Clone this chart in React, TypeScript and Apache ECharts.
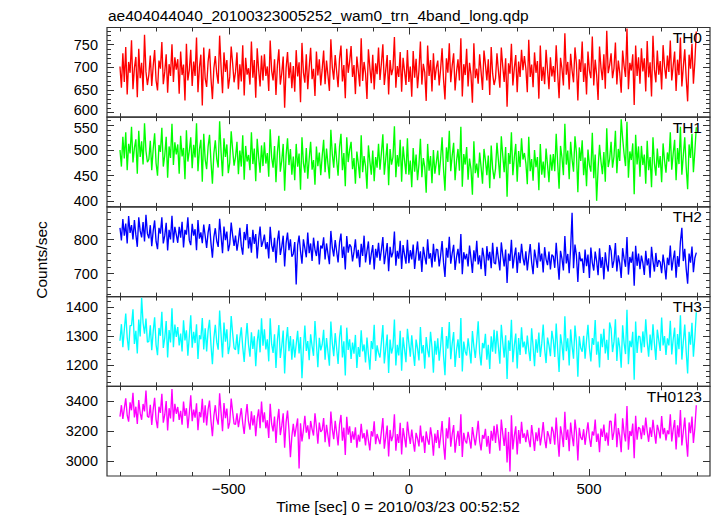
import React, { useEffect, useRef } from 'react';
import * as echarts from 'echarts';

const TITLE = 'ae404044040_20100323005252_wam0_trn_4band_long.qdp';
const X_TITLE = 'Time [sec] 0 = 2010/03/23 00:52:52';
const Y_TITLE = 'Counts/sec';
const BANDS = ['TH0', 'TH1', 'TH2', 'TH3', 'TH0123'];
const COLORS = ['#ff0000', '#00ff00', '#0000ff', '#00ffff', '#ff00ff'];

// time bins: first bin start and bin width (sec)
const T_START = -802;
const T_STEP = 4.01;

const X_MIN = -838;
const X_MAX = 836;
const X_MAJOR = [-500, 0, 500];
const X_MINOR = [-800, -700, -600, -400, -300, -200, -100, 100, 200, 300, 400, 600, 700, 800];

const Y_RANGES = [[590, 788], [388, 566], [632, 897], [1127, 1436], [2900, 3498]];
const Y_MAJOR = [[600, 650, 700, 750], [400, 450, 500, 550], [700, 800], [1200, 1300, 1400], [3000, 3200, 3400]];
const Y_MINOR = [
  [610, 620, 630, 640, 660, 670, 680, 690, 710, 720, 730, 740, 760, 770, 780],
  [390, 410, 420, 430, 440, 460, 470, 480, 490, 510, 520, 530, 540, 560],
  [640, 660, 680, 720, 740, 760, 780, 820, 840, 860, 880],
  [1140, 1160, 1180, 1220, 1240, 1260, 1280, 1320, 1340, 1360, 1380, 1420],
  [3100, 3300],
];
// tick labels that sit at a panel seam, nudged apart so they do not collide
const LABEL_UP = [[600], [], [], [], []];
const LABEL_DOWN = [[], [550], [], [], []];

const TH0 = [
  702, 655, 731, 668, 745, 640, 712, 688, 760, 652, 699, 723, 634, 741, 676, 710, 648, 772, 690, 661,
  684, 726, 659, 703, 738, 671, 649, 715, 697, 756, 663, 690, 729, 644, 707, 681, 751, 668, 722, 695,
  718, 642, 735, 683, 706, 627, 752, 671, 694, 739, 659, 713, 681, 766, 645, 700, 728, 616, 744, 675,
  657, 712, 741, 676, 630, 698, 725, 686, 664, 770, 701, 643, 733, 690, 716, 653, 679, 746, 709, 667,
  690, 733, 651, 707, 669, 749, 638, 721, 684, 698, 662, 757, 677, 716, 633, 742, 695, 658, 726, 671,
  729, 681, 702, 648, 759, 693, 671, 718, 639, 705, 740, 662, 687, 724, 611, 698, 734, 676, 711, 654,
  703, 646, 738, 680, 711, 623, 754, 689, 666, 729, 652, 700, 743, 674, 697, 637, 735, 682, 718, 660,
  696, 737, 663, 715, 682, 648, 762, 700, 673, 727, 691, 656, 719, 748, 669, 705, 632, 741, 688, 713,
  747, 679, 705, 641, 724, 692, 658, 764, 670, 712, 687, 630, 740, 699, 665, 728, 651, 709, 685, 744,
  672, 709, 751, 661, 694, 727, 640, 716, 683, 698, 767, 655, 703, 679, 734, 646, 721, 692, 661, 738,
  668, 702, 635, 736, 677, 719, 654, 694, 757, 662, 708, 689, 626, 748, 681, 716, 647, 731, 672, 699,
  715, 660, 697, 742, 674, 629, 720, 688, 753, 667, 704, 731, 649, 690, 718, 671, 764, 636, 707, 683,
  741, 658, 710, 684, 622, 753, 676, 697, 664, 729, 690, 650, 737, 707, 671, 718, 639, 745, 686, 661,
  676, 731, 692, 655, 744, 702, 668, 720, 613, 709, 686, 752, 660, 698, 727, 645, 713, 679, 739, 694,
  725, 697, 645, 761, 679, 706, 656, 733, 688, 714, 631, 748, 670, 701, 663, 739, 694, 652, 722, 680,
  703, 668, 749, 687, 632, 721, 697, 660, 775, 684, 712, 651, 730, 693, 667, 744, 708, 627, 718, 690,
  757, 668, 709, 640, 735, 692, 676, 768, 660, 717, 683, 628, 746, 699, 672, 729, 653, 781, 687, 705,
  731, 676, 698, 755, 662, 715, 688, 644, 737, 703, 679, 786, 652, 710, 693, 729, 617, 748, 681, 722,
  664, 742, 691, 720, 647, 758, 678, 711, 636, 770, 695, 667, 737, 684, 714, 651, 749, 702, 675, 726,
  690, 759, 671, 704, 735, 648, 717, 683, 766, 658, 701, 740, 676, 625, 728, 697, 752, 664, 713, 779,
];

const TH1 = [
  501, 468, 527, 484, 536, 461, 513, 494, 547, 476, 505, 522, 454, 539, 487, 518, 472, 554, 499, 477,
  482, 519, 461, 503, 534, 475, 450, 511, 497, 545, 468, 490, 527, 446, 508, 485, 553, 471, 516, 492,
  512, 454, 529, 488, 505, 443, 540, 478, 499, 526, 465, 511, 486, 554, 459, 502, 521, 438, 533, 482,
  463, 507, 531, 478, 434, 494, 520, 483, 466, 558, 497, 449, 524, 487, 512, 455, 476, 538, 502, 470,
  487, 517, 453, 500, 468, 530, 442, 509, 478, 491, 461, 536, 473, 504, 439, 523, 486, 456, 510, 469,
  516, 474, 495, 448, 542, 486, 466, 509, 437, 497, 529, 458, 480, 513, 420, 490, 524, 471, 503, 452,
  488, 441, 513, 468, 494, 422, 526, 475, 456, 505, 444, 484, 517, 462, 481, 432, 508, 469, 496, 451,
  489, 521, 457, 504, 473, 444, 541, 492, 466, 514, 481, 450, 507, 533, 461, 495, 429, 526, 477, 501,
  517, 463, 485, 434, 498, 474, 445, 530, 457, 489, 469, 424, 510, 478, 452, 500, 439, 487, 466, 513,
  462, 495, 532, 452, 483, 514, 431, 503, 472, 487, 548, 447, 491, 468, 521, 438, 508, 480, 453, 524,
  452, 480, 427, 505, 458, 492, 441, 473, 523, 447, 485, 467, 416, 513, 460, 489, 435, 501, 454, 476,
  500, 451, 484, 526, 463, 420, 506, 477, 539, 459, 490, 515, 441, 479, 503, 460, 547, 428, 493, 472,
  507, 442, 484, 463, 412, 518, 455, 474, 446, 496, 467, 434, 503, 481, 451, 490, 425, 510, 464, 443,
  464, 515, 480, 445, 528, 490, 457, 507, 408, 495, 473, 536, 451, 486, 513, 438, 499, 467, 524, 482,
  495, 475, 433, 527, 459, 483, 440, 501, 467, 487, 421, 513, 452, 478, 446, 504, 471, 437, 492, 460,
  493, 459, 533, 476, 424, 509, 486, 451, 553, 472, 500, 443, 517, 482, 458, 528, 496, 417, 506, 479,
  520, 451, 486, 429, 502, 471, 458, 535, 445, 492, 400, 465, 511, 478, 453, 497, 438, 544, 467, 483,
  517, 466, 488, 539, 455, 503, 479, 562, 524, 493, 469, 557, 446, 498, 481, 514, 413, 531, 472, 508,
  448, 509, 471, 492, 434, 519, 461, 487, 427, 526, 475, 450, 504, 466, 489, 437, 514, 480, 456, 496,
  478, 536, 462, 494, 521, 441, 505, 473, 547, 452, 490, 526, 467, 423, 512, 485, 533, 457, 499, 546,
];

const TH2 = [
  835, 798, 861, 812, 848, 789, 870, 820, 843, 801, 858, 815, 779, 866, 826, 807, 852, 795, 874, 818,
  804, 843, 781, 826, 857, 795, 772, 835, 818, 866, 789, 812, 850, 768, 829, 801, 871, 791, 838, 815,
  791, 838, 806, 853, 777, 829, 815, 866, 798, 784, 847, 812, 831, 769, 858, 803, 822, 790, 845, 811,
  776, 821, 846, 790, 747, 808, 834, 796, 779, 862, 811, 760, 839, 799, 824, 766, 788, 851, 813, 782,
  812, 768, 797, 835, 781, 756, 823, 799, 846, 774, 808, 762, 829, 788, 817, 745, 801, 839, 779, 794,
  815, 772, 793, 745, 838, 784, 764, 806, 732, 796, 827, 755, 779, 812, 721, 789, 821, 769, 801, 750,
  758, 793, 668, 784, 812, 766, 729, 801, 775, 748, 821, 760, 789, 737, 806, 771, 752, 797, 727, 783,
  774, 807, 742, 789, 758, 728, 826, 777, 751, 799, 766, 733, 792, 818, 746, 780, 712, 811, 762, 786,
  779, 736, 764, 801, 745, 770, 719, 788, 752, 812, 733, 767, 795, 726, 758, 784, 712, 773, 747, 791,
  738, 771, 808, 728, 759, 790, 707, 779, 748, 763, 824, 723, 767, 744, 797, 714, 784, 756, 729, 800,
  731, 769, 742, 786, 714, 757, 795, 738, 766, 705, 779, 751, 727, 801, 744, 760, 718, 788, 735, 772,
  770, 721, 754, 796, 733, 690, 776, 747, 809, 729, 760, 785, 711, 749, 773, 730, 817, 698, 763, 742,
  758, 721, 783, 745, 702, 769, 736, 797, 727, 754, 713, 776, 748, 693, 781, 739, 764, 716, 791, 732,
  728, 779, 744, 709, 792, 754, 721, 771, 672, 759, 737, 800, 715, 750, 777, 702, 763, 731, 788, 746,
  724, 766, 709, 751, 787, 733, 698, 771, 744, 717, 792, 736, 759, 703, 778, 742, 725, 765, 712, 756,
  751, 717, 791, 734, 682, 767, 744, 709, 811, 730, 758, 701, 775, 880, 716, 786, 754, 675, 764, 737,
  744, 702, 771, 722, 756, 687, 777, 732, 709, 765, 737, 695, 775, 717, 749, 683, 763, 726, 706, 784,
  768, 717, 739, 790, 706, 754, 730, 687, 775, 744, 720, 808, 697, 749, 732, 765, 664, 782, 723, 759,
  713, 753, 732, 696, 767, 724, 745, 688, 779, 737, 706, 761, 720, 740, 734, 701, 756, 725, 683, 747,
  725, 783, 709, 741, 768, 688, 752, 720, 794, 835, 737, 773, 714, 670, 759, 732, 780, 704, 746, 762,
];

const TH3 = [
  1284, 1341, 1262, 1322, 1378, 1295, 1251, 1336, 1336, 1392, 1273, 1318, 1240, 1357, 1299, 1432, 1345, 1308, 1360, 1279,
  1282, 1337, 1251, 1316, 1365, 1270, 1234, 1328, 1301, 1384, 1259, 1293, 1352, 1226, 1321, 1278, 1396, 1262, 1340, 1297,
  1331, 1268, 1309, 1247, 1354, 1285, 1320, 1232, 1298, 1372, 1260, 1315, 1276, 1341, 1221, 1303, 1289, 1362, 1254, 1327,
  1247, 1318, 1356, 1270, 1203, 1292, 1339, 1279, 1253, 1388, 1305, 1226, 1347, 1281, 1323, 1238, 1266, 1369, 1310, 1259,
  1253, 1306, 1238, 1292, 1330, 1261, 1211, 1287, 1345, 1270, 1229, 1313, 1256, 1299, 1196, 1280, 1322, 1244, 1361, 1267,
  1323, 1254, 1289, 1213, 1361, 1272, 1242, 1306, 1190, 1287, 1338, 1225, 1265, 1319, 1171, 1280, 1331, 1248, 1300, 1219,
  1289, 1226, 1271, 1318, 1240, 1297, 1155, 1258, 1336, 1249, 1283, 1217, 1306, 1265, 1232, 1352, 1274, 1193, 1294, 1251,
  1271, 1322, 1219, 1293, 1245, 1198, 1350, 1275, 1231, 1310, 1259, 1204, 1296, 1337, 1226, 1282, 1164, 1329, 1252, 1289,
  1221, 1278, 1239, 1304, 1190, 1262, 1228, 1320, 1247, 1271, 1209, 1295, 1236, 1184, 1283, 1255, 1339, 1214, 1268, 1242,
  1226, 1279, 1338, 1206, 1257, 1305, 1173, 1288, 1240, 1263, 1357, 1199, 1270, 1233, 1318, 1181, 1296, 1254, 1210, 1325,
  1276, 1229, 1303, 1245, 1197, 1288, 1258, 1216, 1331, 1240, 1269, 1188, 1297, 1252, 1227, 1315, 1262, 1174, 1284, 1236,
  1292, 1215, 1266, 1331, 1232, 1165, 1300, 1257, 1348, 1220, 1275, 1314, 1194, 1252, 1289, 1225, 1362, 1178, 1281, 1247,
  1233, 1292, 1250, 1206, 1317, 1264, 1225, 1283, 1351, 1242, 1199, 1276, 1258, 1308, 1219, 1270, 1187, 1299, 1246, 1322,
  1239, 1318, 1262, 1205, 1339, 1277, 1226, 1303, 1152, 1285, 1249, 1356, 1210, 1268, 1309, 1188, 1293, 1235, 1330, 1261,
  1281, 1238, 1302, 1251, 1214, 1327, 1265, 1196, 1289, 1243, 1312, 1228, 1274, 1340, 1255, 1207, 1295, 1268, 1231, 1318,
  1285, 1228, 1343, 1256, 1176, 1306, 1270, 1217, 1368, 1248, 1292, 1199, 1323, 1265, 1222, 1336, 1281, 1160, 1299, 1259,
  1246, 1301, 1222, 1285, 1339, 1259, 1213, 1293, 1270, 1355, 1236, 1281, 1192, 1308, 1262, 1325, 1240, 1287, 1218, 1347,
  1326, 1245, 1280, 1358, 1214, 1295, 1260, 1191, 1337, 1276, 1238, 1391, 1203, 1284, 1262, 1315, 1150, 1350, 1242, 1300,
  1297, 1243, 1316, 1262, 1358, 1280, 1229, 1305, 1251, 1341, 1274, 1218, 1322, 1286, 1249, 1364, 1268, 1300, 1235, 1292,
  1268, 1353, 1237, 1289, 1329, 1202, 1307, 1255, 1372, 1219, 1281, 1340, 1246, 1171, 1315, 1270, 1346, 1229, 1296, 1382,
];

const TH0123 = [
  3296, 3372, 3281, 3350, 3418, 3305, 3262, 3391, 3338, 3455, 3290, 3362, 3247, 3407, 3319, 3275, 3380, 3331, 3470, 3298,
  3290, 3375, 3241, 3344, 3421, 3276, 3219, 3362, 3321, 3448, 3256, 3307, 3399, 3203, 3352, 3284, 3480, 3262, 3381, 3315,
  3360, 3274, 3335, 3242, 3396, 3301, 3352, 3219, 3318, 3438, 3266, 3343, 3289, 3384, 3205, 3327, 3292, 3415, 3255, 3371,
  3237, 3345, 3403, 3268, 3165, 3301, 3372, 3281, 3242, 3451, 3324, 3199, 3386, 3286, 3350, 3216, 3259, 3417, 3329, 3247,
  3244, 3318, 3226, 3289, 3352, 3251, 3180, 3297, 3379, 3262, 3209, 3331, 3237, 3304, 3165, 3283, 3345, 3219, 3396, 3258,
  3325, 3218, 3272, 3154, 3381, 3247, 3197, 3296, 3120, 3268, 3347, 3173, 3234, 3318, 3089, 3257, 3336, 3207, 3025, 3165,
  3247, 3162, 3225, 3284, 2950, 3251, 3131, 3206, 3302, 3189, 3238, 3146, 3267, 3213, 3170, 3318, 3228, 3115, 3256, 3194,
  3208, 3286, 3126, 3241, 3167, 3095, 3330, 3213, 3145, 3268, 3189, 3104, 3245, 3307, 3136, 3222, 3041, 3294, 3175, 3231,
  3121, 3197, 3143, 3224, 3089, 3175, 3129, 3248, 3151, 3186, 3104, 3209, 3137, 3071, 3198, 3163, 3265, 3112, 3180, 3146,
  3113, 3196, 3287, 3082, 3161, 3236, 3031, 3207, 3133, 3168, 3312, 3069, 3180, 3121, 3254, 3043, 3219, 3157, 3090, 3262,
  3176, 3114, 3209, 3131, 3062, 3188, 3150, 3097, 3236, 3124, 3168, 3053, 3197, 3140, 3108, 3224, 3157, 3035, 3183, 3121,
  3206, 3086, 3165, 3266, 3112, 3009, 3218, 3150, 3291, 3095, 3179, 3240, 3056, 3143, 3201, 3101, 3312, 3027, 3188, 3135,
  3117, 3195, 3142, 3083, 3226, 3161, 3104, 3182, 3268, 3130, 3071, 3173, 3149, 3215, 3096, 3167, 3048, 3201, 3136, 3234,
  3121, 3245, 3157, 3068, 3277, 3181, 3100, 3220, 2990, 3194, 2930, 3305, 3077, 3168, 3231, 3044, 3207, 3116, 3262, 3154,
  3184, 3125, 3207, 3143, 3092, 3239, 3162, 3067, 3191, 3132, 3221, 3104, 3170, 3259, 3148, 3085, 3199, 3165, 3113, 3228,
  3196, 3108, 3289, 3152, 3028, 3231, 3174, 3093, 3328, 3140, 3209, 3065, 3256, 3167, 3099, 3276, 3190, 3003, 3221, 3158,
  3141, 3212, 3108, 3187, 3258, 3155, 3094, 3196, 3170, 3277, 3127, 3183, 3059, 3216, 3161, 3243, 3133, 3190, 3102, 3265,
  3265, 3140, 3195, 3316, 3092, 3220, 3166, 3059, 3285, 3188, 3130, 3366, 3075, 3200, 3167, 3249, 3018, 3302, 3142, 3226,
  3215, 3146, 3238, 3172, 3290, 3197, 3128, 3225, 3160, 3274, 3189, 3115, 3241, 3203, 3151, 3299, 3178, 3220, 3137, 3204,
  3179, 3311, 3131, 3211, 3273, 3077, 3238, 3158, 3340, 3103, 3197, 3289, 3145, 3029, 3257, 3185, 3296, 3120, 3222, 3372,
];

const SERIES_VALUES = [TH0, TH1, TH2, TH3, TH0123];

const FONT = "'Liberation Sans', Arial, Helvetica, sans-serif";
const AXIS_COLOR = '#333';
const GRID_LEFT = 107;
const GRID_RIGHT = 7;
const GRID_TOP = 27.5;
const PANEL_H = 89.7;
const TICK_FONT = 14.5;
const LABEL_MARGIN = 9;
const NUDGE = 3;

function minus(v: number) {
  return String(v).replace('-', '\u2212');
}

export default function App() {
  const ref = useRef<HTMLDivElement>(null);

  useEffect(() => {
    if (!ref.current) return;
    const chart = echarts.init(ref.current, undefined, { renderer: 'svg' });

    const grids: any[] = [];
    const xAxes: any[] = [];
    const yAxes: any[] = [];
    const series: any[] = [];
    const graphics: any[] = [];
    const yFirstIndex: number[] = [];

    const tickStyle = { color: AXIS_COLOR, width: 1 };

    for (let i = 0; i < 5; i++) {
      const top = GRID_TOP + PANEL_H * i;
      grids.push({
        left: GRID_LEFT,
        right: GRID_RIGHT,
        top,
        height: PANEL_H,
        show: true,
        borderColor: AXIS_COLOR,
        borderWidth: 1.2,
        backgroundColor: 'transparent',
        containLabel: false,
      });

      const xIndex = xAxes.length;
      const baseX = {
        gridIndex: i,
        type: 'value',
        min: X_MIN,
        max: X_MAX,
        axisLine: { show: false, onZero: false },
        splitLine: { show: false },
        minorTick: { show: false },
      };
      ['bottom', 'top'].forEach((pos) => {
        xAxes.push({
          ...baseX,
          position: pos,
          axisTick: { show: true, inside: true, length: 7, lineStyle: tickStyle, customValues: X_MAJOR },
          axisLabel: {
            show: pos === 'bottom' && i === 4,
            customValues: X_MAJOR,
            formatter: (v: number) => minus(v),
            color: '#000',
            fontFamily: FONT,
            fontSize: 15,
            margin: 5,
          },
        });
        xAxes.push({
          ...baseX,
          position: pos,
          axisTick: { show: true, inside: true, length: 4, lineStyle: tickStyle, customValues: X_MINOR },
          axisLabel: { show: false },
        });
      });

      const yIndex = yAxes.length;
      yFirstIndex.push(yIndex);
      const [ymin, ymax] = Y_RANGES[i];
      const baseY = {
        gridIndex: i,
        type: 'value',
        min: ymin,
        max: ymax,
        axisLine: { show: false, onZero: false },
        splitLine: { show: false },
        minorTick: { show: false },
      };
      const nudged = [...LABEL_UP[i], ...LABEL_DOWN[i]];
      const plainLabels = Y_MAJOR[i].filter((v) => nudged.indexOf(v) < 0);
      ['left', 'right'].forEach((pos) => {
        yAxes.push({
          ...baseY,
          position: pos,
          axisTick: { show: true, inside: true, length: 7, lineStyle: tickStyle, customValues: Y_MAJOR[i] },
          axisLabel: {
            show: pos === 'left',
            customValues: plainLabels,
            color: '#000',
            fontFamily: FONT,
            fontSize: TICK_FONT,
            margin: LABEL_MARGIN,
            formatter: (v: number) => String(v),
          },
        });
        yAxes.push({
          ...baseY,
          position: pos,
          axisTick: { show: true, inside: true, length: 4, lineStyle: tickStyle, customValues: Y_MINOR[i] },
          axisLabel: { show: false },
        });
      });

      const vals = SERIES_VALUES[i];
      series.push({
        type: 'line',
        xAxisIndex: xIndex,
        yAxisIndex: yIndex,
        data: vals.map((v, k) => [T_START + k * T_STEP, v]),
        showSymbol: false,
        symbol: 'none',
        lineStyle: { color: COLORS[i], width: 1.35 },
        itemStyle: { color: COLORS[i] },
        silent: true,
        clip: true,
        z: 1,
      });

      graphics.push({
        type: 'text',
        x: 702,
        y: top + 10,
        z: 10,
        style: {
          text: BANDS[i],
          align: 'right',
          verticalAlign: 'middle',
          fontFamily: FONT,
          fontSize: 15.5,
          fill: '#000',
        },
      });
    }

    graphics.push({
      type: 'text',
      x: 108,
      y: 15,
      style: { text: TITLE, align: 'left', verticalAlign: 'middle', fontFamily: FONT, fontSize: 15.5, fill: '#000' },
    });
    graphics.push({
      type: 'text',
      x: 398,
      y: 506,
      style: { text: X_TITLE, align: 'center', verticalAlign: 'middle', fontFamily: FONT, fontSize: 15.5, fill: '#000' },
    });
    graphics.push({
      type: 'text',
      x: 41,
      y: 260,
      rotation: Math.PI / 2,
      style: { text: Y_TITLE, align: 'center', verticalAlign: 'middle', fontFamily: FONT, fontSize: 15.5, fill: '#000' },
    });

    chart.setOption({
      animation: false,
      backgroundColor: '#ffffff',
      grid: grids,
      xAxis: xAxes,
      yAxis: yAxes,
      series,
    });

    // seam labels: placed from the axis scale, nudged apart vertically
    for (let i = 0; i < 5; i++) {
      const place = (v: number, dy: number) => {
        const py = chart.convertToPixel({ yAxisIndex: yFirstIndex[i] }, v) as number;
        graphics.push({
          type: 'text',
          x: GRID_LEFT - LABEL_MARGIN,
          y: py + dy,
          style: {
            text: String(v),
            align: 'right',
            verticalAlign: 'middle',
            fontFamily: FONT,
            fontSize: TICK_FONT,
            fill: '#000',
          },
        });
      };
      LABEL_UP[i].forEach((v) => place(v, -NUDGE));
      LABEL_DOWN[i].forEach((v) => place(v, NUDGE));
    }

    chart.setOption({ graphic: graphics });

    return () => chart.dispose();
  }, []);

  return (
    <div
      ref={ref}
      style={{ position: 'fixed', left: 0, top: 0, width: 717, height: 516, background: '#fff' }}
    />
  );
}
